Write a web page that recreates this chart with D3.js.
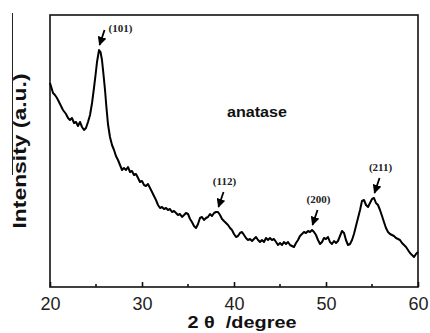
<!DOCTYPE html>
<html>
<head>
<meta charset="utf-8">
<script src="https://cdn.jsdelivr.net/npm/d3@7"></script>
<style>
  body { margin: 0; background: #fff; }
  svg { display: block; }
</style>
</head>
<body>
<div id="chart"></div>
<script>
// XRD pattern (intensity in arbitrary units)
const twoTheta = [
  20.0, 20.33, 20.54, 20.76, 21.09, 21.41, 21.74, 21.96, 22.17, 22.39, 22.61, 22.83, 23.04, 23.26, 23.48, 23.7, 23.91,
  24.13, 24.35, 24.57, 24.78, 24.95, 25.11, 25.33, 25.49, 25.65, 25.82, 25.98, 26.14, 26.3, 26.52, 26.74, 26.96,
  27.17, 27.39, 27.61, 27.83, 28.04, 28.26, 28.48, 28.7, 28.91, 29.13, 29.35, 29.57, 29.78, 30.0, 30.22, 30.43,
  30.65, 30.87, 31.09, 31.3, 31.52, 31.74, 31.96, 32.17, 32.39, 32.61, 32.83, 33.04, 33.26, 33.48, 33.7, 33.91,
  34.13, 34.35, 34.57, 34.78, 35.0, 35.22, 35.43, 35.65, 35.87, 36.09, 36.3, 36.52, 36.74, 36.96, 37.17, 37.39,
  37.61, 37.83, 38.04, 38.26, 38.48, 38.7, 38.91, 39.13, 39.35, 39.57, 39.78, 40.0, 40.22, 40.43, 40.65, 40.87,
  41.09, 41.3, 41.52, 41.74, 41.96, 42.17, 42.39, 42.61, 42.83, 43.04, 43.26, 43.48, 43.7, 43.91, 44.13, 44.35,
  44.57, 44.78, 45.0, 45.22, 45.43, 45.65, 45.87, 46.09, 46.3, 46.52, 46.74, 46.96, 47.17, 47.39, 47.61, 47.83,
  48.04, 48.26, 48.48, 48.7, 48.91, 49.13, 49.35, 49.57, 49.78, 50.0, 50.22, 50.43, 50.65, 50.87, 51.09, 51.3,
  51.52, 51.74, 51.96, 52.17, 52.39, 52.61, 52.83, 53.04, 53.26, 53.48, 53.7, 53.91, 54.13, 54.35, 54.57, 54.78,
  55.0, 55.22, 55.43, 55.65, 55.87, 56.09, 56.3, 56.52, 56.74, 56.96, 57.17, 57.39, 57.61, 57.83, 58.04, 58.26,
  58.48, 58.7, 58.91, 59.13, 59.35, 59.57, 59.78, 60.0
];
const intensity = [
  204, 194, 192, 189, 183, 177, 173, 169, 167, 169, 164, 165, 161, 165, 160, 157, 159,
  165, 172, 184, 199, 212, 225, 237, 235, 227, 212, 197, 179, 163, 150, 142, 137,
  131, 127, 122, 117, 119, 117, 120, 115, 116, 112, 113, 109, 105, 106, 102, 101,
  103, 99, 95, 91, 87, 82, 79, 80, 78, 79, 77, 78, 75, 76, 74, 72,
  73, 70, 72, 74, 73, 68, 65, 61, 59, 63, 69, 70, 67, 69, 70, 73,
  71, 74, 75, 75, 72, 68, 66, 64, 62, 59, 57, 53, 50, 51, 54, 55,
  52, 49, 47, 48, 46, 48, 50, 47, 45, 47, 45, 49, 47, 49, 47, 48,
  45, 42, 44, 42, 45, 43, 45, 42, 41, 40, 44, 47, 51, 53, 55, 54,
  56, 55, 57, 55, 52, 47, 43, 45, 49, 48, 50, 45, 43, 46, 44, 46,
  51, 56, 54, 47, 42, 43, 47, 53, 61, 69, 77, 86, 87, 82, 80, 84,
  88, 89, 84, 82, 77, 71, 65, 59, 55, 53, 52, 51, 49, 48, 47, 44,
  42, 40, 37, 34, 32, 30, 33, 35
];

// peak annotations
const peakLabels = ["(101)", "(112)", "(200)", "(211)"];
const peakAngles = [25.33, 38.26, 48.48, 55.22];

const xTicks = [20, 30, 40, 50, 60];
const xMinorTicks = [25, 35, 45, 55];
const phaseLabel = "anatase";

const width = 430, height = 333;
const margin = { top: 15, right: 12, bottom: 46, left: 50 };

const svg = d3.select("#chart").append("svg")
  .attr("width", width)
  .attr("height", height);

const x = d3.scaleLinear().domain([20, 60]).range([margin.left, width - margin.right]);
const y = d3.scaleLinear().domain([0, 272]).range([height - margin.bottom, margin.top]);

const data = twoTheta.map((t, i) => ({ t: t, v: intensity[i] }));

// frame
svg.append("rect")
  .attr("x", x(20)).attr("y", y(272))
  .attr("width", x(60) - x(20)).attr("height", y(0) - y(272))
  .attr("fill", "none").attr("stroke", "#111").attr("stroke-width", 1.6);

// bottom axis, ticks pointing inward
const xAxis = svg.append("g")
  .attr("transform", `translate(0,${y(0)})`)
  .call(d3.axisBottom(x).tickValues(xTicks).tickSizeInner(-5).tickSizeOuter(0).tickPadding(10));
xAxis.select(".domain").remove();
xAxis.selectAll("line").attr("stroke", "#111").attr("stroke-width", 1.6);
xAxis.selectAll("text")
  .attr("font-family", "'Liberation Sans', Arial, sans-serif")
  .attr("font-size", 18).attr("fill", "#222");

svg.append("g")
  .selectAll("line").data(xMinorTicks).join("line")
  .attr("x1", d => x(d)).attr("x2", d => x(d))
  .attr("y1", y(0)).attr("y2", y(0) - 3)
  .attr("stroke", "#111").attr("stroke-width", 1.6);

// curve
const line = d3.line().x(d => x(d.t)).y(d => y(d.v)).curve(d3.curveLinear);
svg.append("path")
  .datum(data)
  .attr("d", line)
  .attr("fill", "none")
  .attr("stroke", "#000")
  .attr("stroke-width", 2)
  .attr("stroke-linejoin", "round");

// axis titles
svg.append("text")
  .attr("x", 242).attr("y", 328)
  .attr("text-anchor", "middle")
  .style("white-space", "pre")
  .attr("font-family", "'Liberation Sans', Arial, sans-serif")
  .attr("font-weight", "bold").attr("font-size", 17)
  .attr("textLength", 109).attr("lengthAdjust", "spacingAndGlyphs")
  .attr("fill", "#111")
  .text("2 θ  /degree");

svg.append("text")
  .attr("transform", "translate(26,151) rotate(-90)")
  .attr("text-anchor", "middle")
  .attr("font-family", "'Liberation Sans', Arial, sans-serif")
  .attr("font-weight", "bold").attr("font-size", 18)
  .attr("textLength", 155).attr("lengthAdjust", "spacingAndGlyphs")
  .attr("fill", "#111")
  .text("Intensity (a.u.)");

// stray rule over the y title, as in the scan
svg.append("line")
  .attr("x1", 12.5).attr("x2", 12.5).attr("y1", 13).attr("y2", 175)
  .attr("stroke", "#222").attr("stroke-width", 1);

svg.append("text")
  .attr("x", 257).attr("y", 117)
  .attr("text-anchor", "middle")
  .attr("font-family", "'Liberation Sans', Arial, sans-serif")
  .attr("font-weight", "bold").attr("font-size", 15)
  .attr("textLength", 60).attr("lengthAdjust", "spacingAndGlyphs")
  .attr("fill", "#111")
  .text(phaseLabel);

// arrows + peak labels
svg.append("defs").append("marker")
  .attr("id", "head")
  .attr("viewBox", "0 0 10 10")
  .attr("refX", 9).attr("refY", 5)
  .attr("markerWidth", 5).attr("markerHeight", 5)
  .attr("orient", "auto")
  .append("path").attr("d", "M0,0 L10,5 L0,10 z").attr("fill", "#000");

peakLabels.forEach((lab, i) => {
  const t = peakAngles[i];
  const near = data.reduce((a, b) => Math.abs(b.t - t) < Math.abs(a.t - t) ? b : a);
  const tipX = x(t) + 0.5, tipY = y(near.v) - 5;
  const tailX = tipX + 5, tailY = tipY - 15;
  svg.append("line")
    .attr("x1", tailX).attr("y1", tailY)
    .attr("x2", tipX).attr("y2", tipY)
    .attr("stroke", "#000").attr("stroke-width", 1.8)
    .attr("marker-end", "url(#head)");
  const first = i === 0;
  svg.append("text")
    .attr("x", first ? tailX + 4 : tailX + 1)
    .attr("y", first ? tailY + 2 : tailY - 7)
    .attr("text-anchor", first ? "start" : "middle")
    .attr("font-family", "'Liberation Serif', 'Times New Roman', serif")
    .attr("font-weight", "bold").attr("font-size", 11)
    .attr("fill", "#222")
    .text(lab);
});
</script>
</body>
</html>
